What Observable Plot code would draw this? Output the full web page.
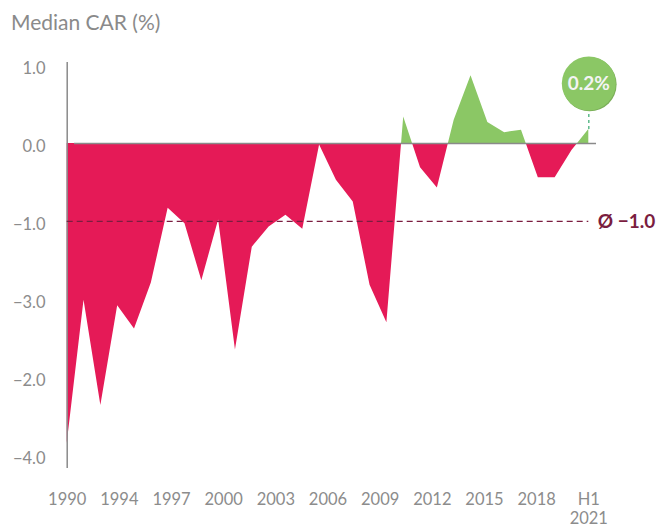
<!DOCTYPE html>
<html><head><meta charset="utf-8">
<script src="https://cdn.jsdelivr.net/npm/d3@7"></script>
<script src="https://cdn.jsdelivr.net/npm/@observablehq/plot@0.6"></script>
<style>
body{margin:0;background:#fff;font-family:Lato,sans-serif;}
#wrap{position:relative;width:659px;height:525px;}
#title{position:absolute;left:11px;top:11px;font-size:21px;line-height:21px;color:#8a8a8a;z-index:2;}
</style></head><body>
<div id="wrap"><div id="title">Median CAR (%)</div></div>
<script>
// Categories: one point per period
const periods = ["1990","1991","1992","1993","1994","1995","1996","1997","1998","1999","2000","2001","2002","2003","2004","2005","2006","2007","2008","2009","2010","2011","2012","2013","2014","2015","2016","2017","2018","2019","2020","H1 2021"];
// Median CAR (%) per period
const values = [-3.85,-2.01,-3.36,-2.08,-2.38,-1.79,-0.83,-1.03,-1.76,-0.98,-2.65,-1.33,-1.07,-0.92,-1.10,-0.02,-0.47,-0.75,-1.82,-2.30,0.34,-0.31,-0.57,0.30,0.87,0.27,0.14,0.17,-0.44,-0.44,-0.09,0.18];
// Axis tick labels (as printed in the reference)
const xTickLabels = ["1990","1994","1997","2000","2003","2006","2009","2012","2015","2018","H1\n2021"];
const yTickValues = [1,0,-1,-2,-3,-4];
const yTickLabels = ["1.0","0.0","−1.0","−3.0","−2.0","−4.0"];
const average = -1.0;
const averageLabel = "Ø −1.0";
const lastLabel = "0.2%";

const data = values.map((v,i)=>({i, period: periods[i], v}));
const N = data.length;
const xTicks = xTickLabels.map((_,k)=> k*(N-1)/(xTickLabels.length-1));

const W=659,H=525;
const RED="#e51a57", GREEN="#8bc765", MAROON="#7b1d40", GREY="#8c8c8c";
const yDomain=[-4.17,1.04];
const mTop=62, mBottom=57;
const yS = Plot.scale({y:{domain:yDomain, range:[H-mBottom, mTop]}});
const last = data[N-1];
const bubbleY = yS.invert(yS.apply(last.v) - 46);

const chart = Plot.plot({
  width:W, height:H, marginLeft:74, marginRight:63, marginTop:mTop, marginBottom:mBottom,
  style:{fontFamily:"Lato, sans-serif", fontSize:"16.5px", color:GREY, background:"transparent", overflow:"visible"},
  x:{domain:[0, N-1], range:[66.7, 588.3]},
  y:{domain:yDomain},
  marks:[
    Plot.areaY(data,{x:"i",y1:0,y2:"v",fill:RED}),
    Plot.areaY(data,{x:"i",y1:0,y2:"v",fill:GREEN}),
    Plot.ruleY([0],{stroke:"#8a8a8a", strokeWidth:1.5}),
    Plot.ruleX([0],{stroke:"#8a8a8a", strokeWidth:1.5}),
    Plot.ruleY([average],{x1:0, x2:N-1, stroke:MAROON, strokeDasharray:"6,4", strokeWidth:1.3}),
    Plot.text([{i:N-1, v:average, label:averageLabel}],{x:"i", y:"v", text:"label", dx:9, textAnchor:"start", fontWeight:"bold", fontSize:19, fill:MAROON}),
    Plot.axisY(yTickValues,{tickSize:0, tickPadding:29, dy:3, tickFormat:d=>yTickLabels[yTickValues.indexOf(d)], label:null, fill:GREY}),
    Plot.axisX(xTicks,{tickSize:0, tickPadding:22, lineHeight:1.2, tickFormat:d=>xTickLabels[xTicks.indexOf(d)], label:null, fill:GREY}),
    Plot.ruleX([last],{x:"i", y1:"v", y2:()=>bubbleY, stroke:"#5dbb8b", strokeDasharray:"3,3", strokeWidth:1.5}),
    Plot.dot([last],{x:"i", y:()=>bubbleY, r:27, fill:"#7aae58", dx:0.8, dy:0.8}),
    Plot.dot([last],{x:"i", y:()=>bubbleY, r:27, fill:GREEN}),
    Plot.text([last],{x:"i", y:()=>bubbleY, text:()=>lastLabel, fill:"#f4f4f4", fontWeight:"bold", fontSize:19})
  ]
});
document.getElementById("wrap").appendChild(chart);

// Split the area at zero using the plot's own y scale
const y0 = chart.scale("y").apply(0);
const svg = d3.select(chart);
const defs = svg.insert("defs", ":first-child");
defs.append("clipPath").attr("id","clip-pos").append("rect").attr("x",-10).attr("y",-10).attr("width",W+20).attr("height",y0+10);
defs.append("clipPath").attr("id","clip-neg").append("rect").attr("x",-10).attr("y",y0).attr("width",W+20).attr("height",H-y0+10);
const areas = svg.selectAll('g[aria-label="area"]').nodes();
d3.select(areas[0]).attr("clip-path","url(#clip-neg)");
d3.select(areas[1]).attr("clip-path","url(#clip-pos)");
</script>
</body></html>
